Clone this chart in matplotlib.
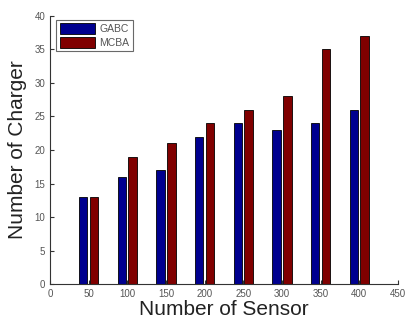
import matplotlib
matplotlib.use("Agg")
import matplotlib.pyplot as plt
import numpy as np

plt.rcParams["font.family"] = ["Liberation Sans", "DejaVu Sans"]

sensors = [50, 100, 150, 200, 250, 300, 350, 400]
gabc = [13, 16, 17, 22, 24, 23, 24, 26]
mcba = [13, 19, 21, 24, 26, 28, 35, 37]

x = np.array(sensors)
w = 11

fig = plt.figure(figsize=(4.06, 3.25), dpi=100)
ax = fig.add_axes([0.123, 0.126, 0.857, 0.825])

ax.bar(x - 7, gabc, width=w, color="#00008f", edgecolor="black", linewidth=0.6, label="GABC")
ax.bar(x + 7, mcba, width=w, color="#800000", edgecolor="black", linewidth=0.6, label="MCBA")

ax.set_xlim(0, 450)
ax.set_ylim(0, 40)
ax.set_xticks(np.arange(0, 451, 50))
ax.set_yticks(np.arange(0, 41, 5))
ax.tick_params(direction="in", length=3, labelsize=7, colors="#333333", labelcolor="#555555")
for s in ["top", "right"]:
    ax.spines[s].set_visible(False)
for s in ["left", "bottom"]:
    ax.spines[s].set_color("#333333")
    ax.spines[s].set_linewidth(0.8)

ax.set_xlabel("Number of Sensor", fontsize=15, color="#222222", labelpad=1)
ax.set_ylabel("Number of Charger", fontsize=15, color="#222222", labelpad=5)

leg = ax.legend(loc="upper left", fontsize=7.5, frameon=True, fancybox=False,
                edgecolor="#444444", handlelength=3.4, handleheight=1.2,
                borderpad=0.35, labelspacing=0.25, handletextpad=0.4,
                bbox_to_anchor=(0.003, 1.005))
leg.get_frame().set_linewidth(0.8)
for t in leg.get_texts():
    t.set_color("#555555")

fig.savefig("out.png", dpi=100)
